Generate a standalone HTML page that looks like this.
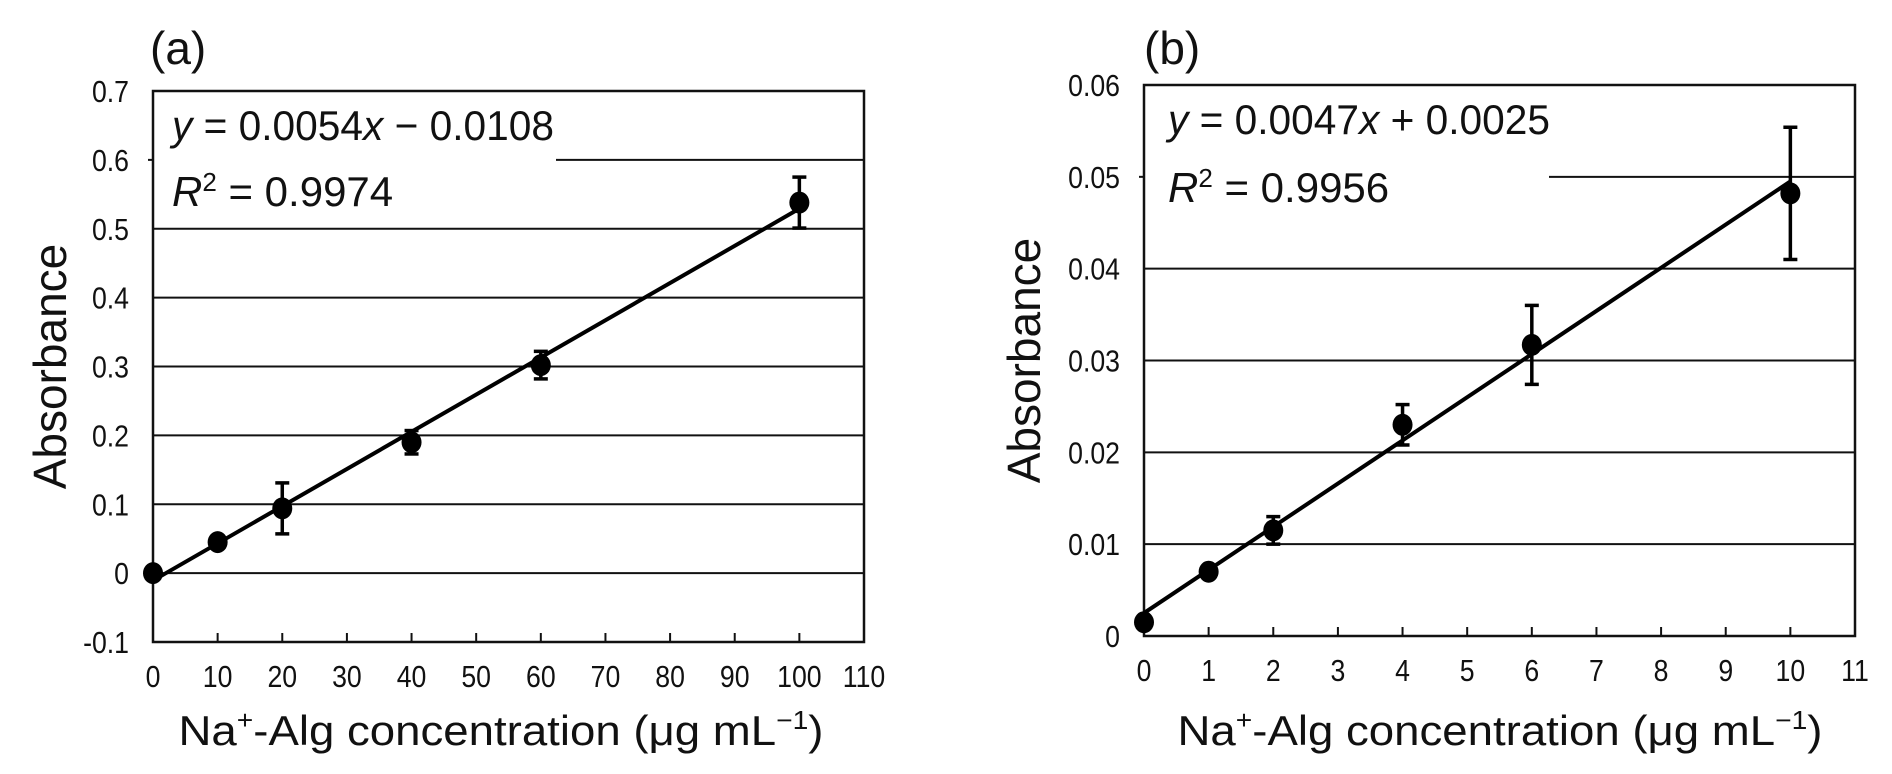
<!DOCTYPE html>
<html><head><meta charset="utf-8"><style>
html,body{margin:0;padding:0;background:#fff;}
svg{display:block;font-family:"Liberation Sans",Arial,sans-serif;}
</style></head><body>
<svg id="chart" width="1892" height="774" viewBox="0 0 1892 774"></svg>
<script>
// Panel (a) data
const xA = [0, 10, 20, 40, 60, 100];
const yA = [0, 0.045, 0.094, 0.19, 0.302, 0.538];
const errA = [0, 0.004, 0.037, 0.017, 0.02, 0.037];
const yTicksA = [-0.1, 0, 0.1, 0.2, 0.3, 0.4, 0.5, 0.6, 0.7];
const yTickLabelsA = ["-0.1","0","0.1","0.2","0.3","0.4","0.5","0.6","0.7"];
const xTicksA = [0,10,20,30,40,50,60,70,80,90,100,110];
const fitA = [0.0054, -0.0108];
// Panel (b) data
const xB = [0, 1, 2, 4, 6, 10];
const yB = [0.0015, 0.007, 0.0115, 0.023, 0.0317, 0.0482];
const errB = [0, 0.0005, 0.0015, 0.0022, 0.0043, 0.0072];
const yTicksB = [0, 0.01, 0.02, 0.03, 0.04, 0.05, 0.06];
const yTickLabelsB = ["0","0.01","0.02","0.03","0.04","0.05","0.06"];
const xTicksB = [0,1,2,3,4,5,6,7,8,9,10,11];
const fitB = [0.0047, 0.0025];

const NS = "http://www.w3.org/2000/svg";
const svg = document.getElementById("chart");
function mk(tag, attrs, parent, text) {
  const e = document.createElementNS(NS, tag);
  for (const k in attrs) e.setAttribute(k, attrs[k]);
  if (text !== undefined) e.textContent = text;
  (parent || svg).appendChild(e);
  return e;
}

function panel(cfg) {
  const g = mk("g", {});
  
  
  const sx = v => cfg.left + (v - cfg.xmin) / (cfg.xmax - cfg.xmin) * (cfg.right - cfg.left);
  const sy = v => cfg.bottom - (v - cfg.ymin) / (cfg.ymax - cfg.ymin) * (cfg.bottom - cfg.top);
  cfg.yTicks.forEach((t, i) => {
    if (t === cfg.ymin || t === cfg.ymax) return;
    const x1 = (t === cfg.partialTick) ? cfg.partialStart : cfg.left;
    const l = mk("line", {x1: x1, x2: cfg.right, y1: sy(t), y2: sy(t), stroke: "#111", "stroke-width": 2}, g);
    
    
    if (t === cfg.partialTick) mk("line", {x1: cfg.left - 5, x2: cfg.left, y1: sy(t), y2: sy(t), stroke: "#111", "stroke-width": 2}, g);
  });
  cfg.yTicks.forEach((t, i) => {
    const tx = mk("text", {x: 0, y: 0, transform: `translate(${cfg.left - 24},${sy(t) + 11}) scale(0.86,1)`, "text-anchor": "end", "font-size": 31, fill: "#111"}, g, cfg.yLabels[i]);
    
    
  });
  const fr = mk("rect", {x: cfg.left, y: cfg.top, width: cfg.right - cfg.left, height: cfg.bottom - cfg.top, fill: "none", stroke: "#111", "stroke-width": 2.5}, g);
  
  
  cfg.xTicks.forEach(t => {
    mk("line", {x1: sx(t), x2: sx(t), y1: cfg.bottom, y2: cfg.bottom - 9, stroke: "#111", "stroke-width": 2}, g);
    const tx = mk("text", {x: 0, y: 0, transform: `translate(${sx(t)},${cfg.bottom + 45}) scale(0.86,1)`, "text-anchor": "middle", "font-size": 31, fill: "#111"}, g, String(t));
    
    
  });
  const x0 = cfg.xs[0], x1 = cfg.xs[cfg.xs.length - 1];
  const fl = mk("line", {x1: sx(x0), y1: sy(cfg.fit[0] * x0 + cfg.fit[1]), x2: sx(x1), y2: sy(cfg.fit[0] * x1 + cfg.fit[1]), stroke: "#000", "stroke-width": 4}, g);
  
  
  cfg.xs.forEach((xv, i) => {
    const e = cfg.errs[i];
    if (e > 0) {
      const eb = mk("g", {stroke: "#000", "stroke-width": 3.5}, g);
      
      
      mk("line", {x1: sx(xv), x2: sx(xv), y1: sy(cfg.ys[i] - e), y2: sy(cfg.ys[i] + e)}, eb);
      mk("line", {x1: sx(xv) - 7, x2: sx(xv) + 7, y1: sy(cfg.ys[i] - e), y2: sy(cfg.ys[i] - e)}, eb);
      mk("line", {x1: sx(xv) - 7, x2: sx(xv) + 7, y1: sy(cfg.ys[i] + e), y2: sy(cfg.ys[i] + e)}, eb);
    }
    const c = mk("ellipse", {cx: sx(xv), cy: sy(cfg.ys[i]), rx: 10, ry: 11, fill: "#000"}, g);
    
    
  });
  const eq = mk("text", {x: cfg.eqX, y: cfg.eqY, "font-size": 42, fill: "#111", textLength: 382, lengthAdjust: "spacingAndGlyphs"}, g);
  
  
  mk("tspan", {"font-style": "italic"}, eq, "y");
  mk("tspan", {}, eq, cfg.eqMid);
  mk("tspan", {"font-style": "italic"}, eq, "x");
  mk("tspan", {}, eq, cfg.eqEnd);
  const r2 = mk("text", {x: cfg.eqX, y: cfg.eqY + cfg.r2dy, "font-size": 42, fill: "#111"}, g);
  
  
  mk("tspan", {"font-style": "italic"}, r2, "R");
  mk("tspan", {"font-size": 26, dy: -15}, r2, "2");
  mk("tspan", {dy: 15}, r2, " = " + cfg.r2);
  const yt = mk("text", {x: 0, y: 0, transform: `translate(${cfg.yTitleX},${(cfg.top + cfg.bottom) / 2}) rotate(-90)`, "text-anchor": "middle", "font-size": 46, fill: "#111"}, g, "Absorbance");
  
  
  const xt = mk("text", {x: cfg.xTitleX, y: 745, "text-anchor": "middle", "font-size": 42, fill: "#111", textLength: 645, lengthAdjust: "spacingAndGlyphs"}, g);
  
  
  mk("tspan", {}, xt, "Na");
  mk("tspan", {"font-size": 26, dy: -16}, xt, "+");
  mk("tspan", {dy: 16}, xt, "-Alg concentration (μg mL");
  mk("tspan", {"font-size": 26, dy: -16}, xt, "−1");
  mk("tspan", {dy: 16}, xt, ")");
  const pl = mk("text", {x: cfg.labelX, y: 64, "font-size": 46, fill: "#111"}, g, cfg.label);
  
  
}

panel({name: "panel-a", left: 153, right: 864, top: 91, bottom: 642, xmin: 0, xmax: 110, ymin: -0.1, ymax: 0.7,
  xs: xA, ys: yA, errs: errA, yTicks: yTicksA, yLabels: yTickLabelsA, xTicks: xTicksA, fit: fitA,
  partialTick: 0.6, partialStart: 556, eqX: 172, eqY: 140, r2dy: 66, eqMid: " = 0.0054", eqEnd: " − 0.0108", r2: "0.9974",
  yTitleX: 66, xTitleX: 501, label: "(a)", labelX: 150});
panel({name: "panel-b", left: 1144, right: 1855, top: 85, bottom: 636, xmin: 0, xmax: 11, ymin: 0, ymax: 0.06,
  xs: xB, ys: yB, errs: errB, yTicks: yTicksB, yLabels: yTickLabelsB, xTicks: xTicksB, fit: fitB,
  partialTick: 0.05, partialStart: 1549, eqX: 1168, eqY: 134, r2dy: 68, eqMid: " = 0.0047", eqEnd: " + 0.0025", r2: "0.9956",
  yTitleX: 1040, xTitleX: 1500, label: "(b)", labelX: 1144});
</script>
</body></html>
